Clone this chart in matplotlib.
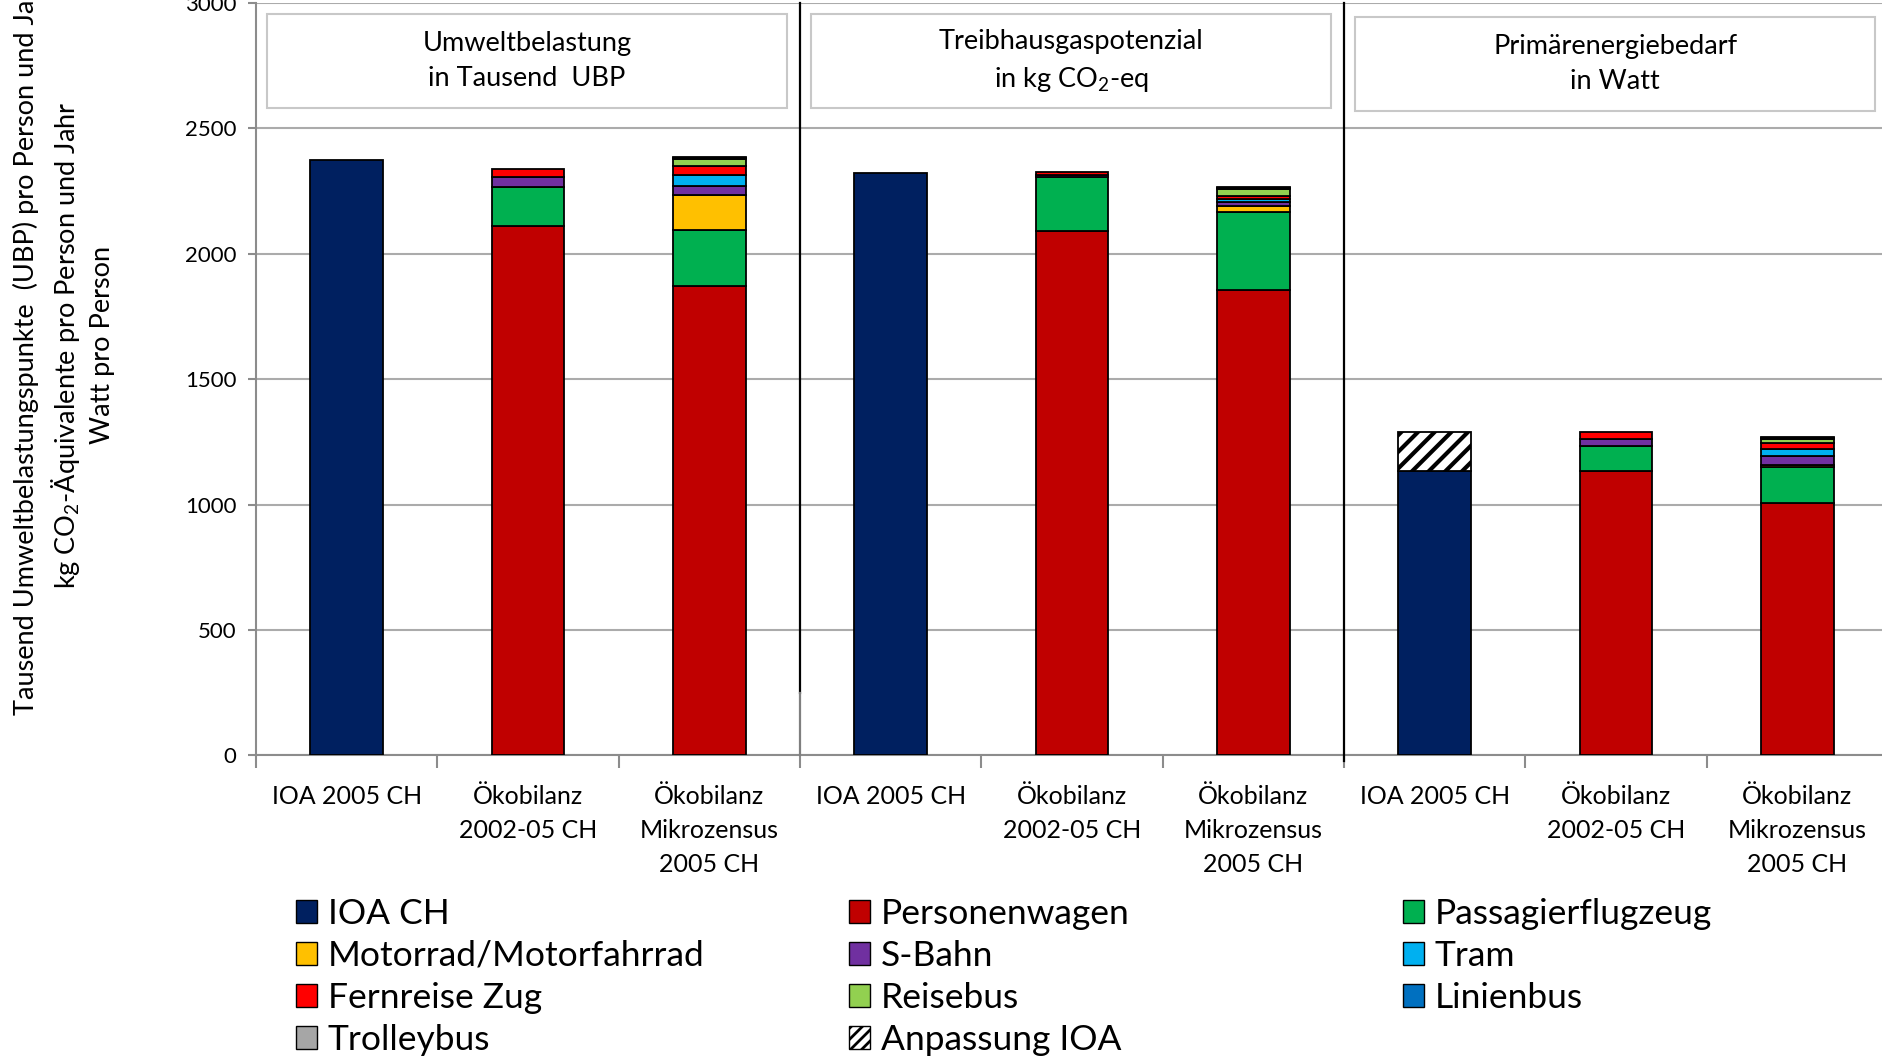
import matplotlib
matplotlib.use("Agg")
import matplotlib.pyplot as plt
from matplotlib.patches import Patch, Rectangle
import numpy as np

plt.rcParams['font.family'] = ['Lato', 'DejaVu Sans']
plt.rcParams['mathtext.fontset'] = 'custom'
plt.rcParams['mathtext.rm'] = 'Lato'
plt.rcParams['mathtext.it'] = 'Lato:italic'
plt.rcParams['hatch.linewidth'] = 3.0

# Categories (three per indicator panel)
categories = ["IOA 2005 CH", "Ökobilanz\n2002-05 CH", "Ökobilanz\nMikrozensus\n2005 CH"] * 3
panel_titles = ["Umweltbelastung\nin Tausend  UBP",
                "Treibhausgaspotenzial\nin kg CO$_2$-eq",
                "Primärenergiebedarf\nin Watt"]

# Stacked segments, bottom to top
ioa_ch            = [2375, 0, 0, 2322, 0, 0, 1133, 0, 0]
anpassung_ioa     = [0, 0, 0, 0, 0, 0, 156, 0, 0]
personenwagen     = [0, 2110, 1873, 0, 2090, 1857, 0, 1133, 1005]
passagierflugzeug = [0, 156, 222, 0, 215, 311, 0, 99, 144]
motorrad          = [0, 0, 138, 0, 0, 24, 0, 0, 9]
s_bahn            = [0, 39, 38, 0, 10, 13, 0, 28, 35]
tram              = [0, 0, 44, 0, 0, 13, 0, 0, 29]
fernreise_zug     = [0, 34, 36, 0, 11, 12, 0, 29, 24]
reisebus          = [0, 0, 27, 0, 0, 29, 0, 0, 14]
linienbus         = [0, 0, 5, 0, 0, 4, 0, 0, 5]
trolleybus        = [0, 0, 4, 0, 0, 4, 0, 0, 4]

series = [
    ("IOA CH", ioa_ch, "#002060", None),
    ("Anpassung IOA", anpassung_ioa, "white", "//"),
    ("Personenwagen", personenwagen, "#C00000", None),
    ("Passagierflugzeug", passagierflugzeug, "#00B050", None),
    ("Motorrad/Motorfahrrad", motorrad, "#FFC000", None),
    ("S-Bahn", s_bahn, "#7030A0", None),
    ("Tram", tram, "#00B0F0", None),
    ("Fernreise Zug", fernreise_zug, "#FF0000", None),
    ("Reisebus", reisebus, "#92D050", None),
    ("Linienbus", linienbus, "#0070C0", None),
    ("Trolleybus", trolleybus, "#A6A6A6", None),
]

W, H = 1883, 1056
fig = plt.figure(figsize=(W / 100, H / 100), dpi=100)
ax = fig.add_axes([256 / W, 1 - 755.4 / H, 1632 / W, 752.4 / H])

x = np.arange(len(categories))
bottom = np.zeros(len(categories))
for name, vals, color, hatch in series:
    vals = np.array(vals, dtype=float)
    mask = vals > 0
    ax.bar(x[mask], vals[mask], width=0.4, bottom=bottom[mask], color=color,
           edgecolor="black", linewidth=1.3, hatch=hatch, zorder=3)
    bottom += vals

# Legend swatches (finer hatch for the small squares)
plt.rcParams['hatch.linewidth'] = 2.0
handles = {}
for name, vals, color, hatch in series:
    handles[name] = Patch(facecolor=color, edgecolor="black", linewidth=1.0,
                          hatch="///" if hatch else None)

ax.set_xlim(-0.5, 8.5)
ax.set_ylim(0, 3000)
ax.set_yticks(np.arange(0, 3001, 500))
ax.grid(axis="y", color="#ABABAB", linewidth=1.5, zorder=0)
ax.set_axisbelow(True)

for s in ["top", "right"]:
    ax.spines[s].set_visible(False)
for s in ["left", "bottom"]:
    ax.spines[s].set_color("#8C8C8C")
    ax.spines[s].set_linewidth(1.5)

ax.set_xticks(x)
ax.set_xticklabels(categories, fontsize=18, linespacing=1.6, va="top")
ax.set_xticks(np.arange(-0.5, 8.6, 1.0), minor=True)
ax.tick_params(axis="x", which="major", length=0, pad=21)
ax.tick_params(axis="x", which="minor", length=9, color="#8C8C8C", width=1.5)
ax.tick_params(axis="y", length=6, color="#8C8C8C", width=1.5, labelsize=16, pad=8)

# Panel dividers
ax.plot([2.5, 2.5], [3000, 249], color="black", lw=1.6, zorder=4, clip_on=False)
ax.plot([2.5, 2.5], [249, 0], color="#7F7F7F", lw=1.6, zorder=4, clip_on=False)
ax.plot([5.5, 5.5], [3000, -22], color="black", lw=1.6, zorder=4, clip_on=False)

# Panel title boxes
for i, title in enumerate(panel_titles):
    x0 = -0.5 + 3 * i + 0.06
    x1 = -0.5 + 3 * i + 2.93
    y0, y1 = 2581, 2956
    if i == 2:
        y0, y1 = 2570, 2945
    ax.add_patch(Rectangle((x0, y0), x1 - x0, y1 - y0, facecolor="white",
                           edgecolor="#C8C8C8", linewidth=1.5, zorder=2))
    ax.text((x0 + x1) / 2, (y0 + y1) / 2, title, ha="center", va="center",
            fontsize=19.5, linespacing=1.5, zorder=5)

# Y-axis label
fig.text(64 / W, 1 - 345 / H,
         "Tausend Umweltbelastungspunkte  (UBP) pro Person und Jahr\n"
         "kg CO$_2$-Äquivalente pro Person und Jahr\n"
         "Watt pro Person",
         rotation=90, ha="center", va="center", multialignment="center",
         fontsize=19.5, linespacing=1.4)

# Legend, three columns
columns = [
    ["IOA CH", "Motorrad/Motorfahrrad", "Fernreise Zug", "Trolleybus"],
    ["Personenwagen", "S-Bahn", "Reisebus", "Anpassung IOA"],
    ["Passagierflugzeug", "Tram", "Linienbus"],
]
col_x = [296, 849, 1403]
for cx, names in zip(col_x, columns):
    fig.legend([handles[n] for n in names], names, loc="upper left",
               bbox_to_anchor=(cx / W, 1 - 898 / H), frameon=False,
               fontsize=25.5, handlelength=0.6, handleheight=0.6,
               handletextpad=0.3, labelspacing=0.28, borderpad=0,
               borderaxespad=0)

fig.savefig("out.png", dpi=100)
